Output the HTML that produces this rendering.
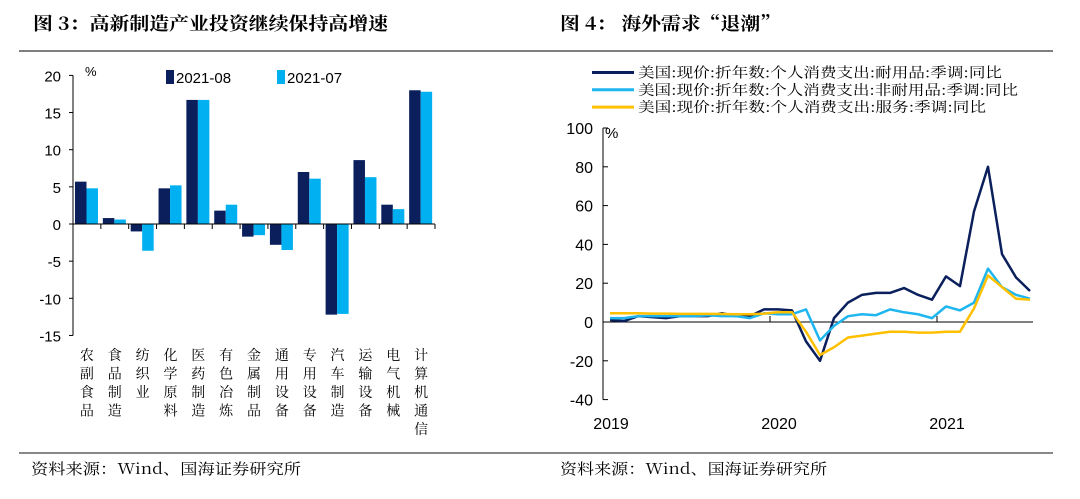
<!DOCTYPE html>
<html><head><meta charset="utf-8"><style>
body{margin:0;background:#fff;width:1080px;height:494px;overflow:hidden;font-family:"Liberation Sans","Noto Serif CJK SC",sans-serif}
svg text{font-family:"Liberation Sans","Noto Serif CJK SC",sans-serif}
.cjk{font-family:"Noto Serif CJK SC","Liberation Serif",serif}
</style></head><body>
<svg width="1080" height="494">
<text x="33" y="30" class="cjk" font-size="18" font-weight="bold" textLength="355" lengthAdjust="spacingAndGlyphs">图 3：高新制造产业投资继续保持高增速</text>
<text x="560" y="30" class="cjk" font-size="18" font-weight="bold" textLength="220" lengthAdjust="spacingAndGlyphs">图 4：  海外需求“退潮”</text>
<line x1="19" y1="51" x2="1053" y2="51" stroke="#555" stroke-width="1.5"/>
<line x1="19" y1="453" x2="1053" y2="453" stroke="#888" stroke-width="2"/>
<text x="31" y="474" class="cjk" font-size="15" textLength="270" lengthAdjust="spacingAndGlyphs">资料来源：Wind、国海证券研究所</text>
<text x="560" y="474" class="cjk" font-size="15" textLength="267" lengthAdjust="spacingAndGlyphs">资料来源：Wind、国海证券研究所</text>
<g id="left"></g>
<g id="right"></g>
</svg>
<script>
const cats=["农副食品","食品制造","纺织业","化学原料","医药制造","有色冶炼","金属制品","通用设备","专用设备","汽车制造","运输设备","电气机械","计算机通信"];
const aug=[5.7,0.8,-1.0,4.8,16.7,1.8,-1.7,-2.8,7.0,-12.2,8.6,2.6,18.0];
const jul=[4.8,0.6,-3.6,5.2,16.7,2.6,-1.5,-3.5,6.1,-12.1,6.3,2.0,17.8];
const leftTicks=[20,15,10,5,0,-5,-10,-15];
const durable=[1,0.5,3,2.5,2,3,3,3,4.5,3,3,6.5,6.5,6,-10,-20,2,10,14,15,15,17.5,14,11.5,23.5,18.5,57,80,35,23,16];
const nondurable=[2,2,3,3,3,3,3,3.5,3,3,2,4.5,4,4,6.5,-9.5,-2,3,4,3.5,6.5,5,4,2,8,6,10,27.5,18,14,12];
const services=[4.5,4.5,4.5,4.3,4.3,4.2,4.2,4.2,4.1,4,4,4.3,5,5,-5,-17,-13,-8,-7,-6,-5,-5,-5.5,-5.5,-5,-5,7,24,18,12,11.5];
const rightTicks=[100,80,60,40,20,0,-20,-40];
const yearLabels=["2019","2020","2021"];
const NS="http://www.w3.org/2000/svg";
function mk(p,t,a){const e=document.createElementNS(NS,t);for(const k in a)e.setAttribute(k,a[k]);p.appendChild(e);return e;}
// left
const L=document.getElementById('left');
const ly=v=>224-v*7.43, x0=73, cw=(435-73)/13;
leftTicks.forEach(t=>{const tk=mk(L,'line',{x1:69,x2:73,y1:ly(t),y2:ly(t),stroke:'#000'});

const tx=mk(L,'text',{x:61,y:ly(t)+6,'font-size':15,'text-anchor':'end'});tx.textContent=t;
});
const ax=mk(L,'line',{x1:73,x2:73,y1:ly(20),y2:ly(-15),stroke:'#000'});
const pc=mk(L,'text',{x:85,y:76,'font-size':13});pc.textContent='%';
cats.forEach((c,i)=>{const cx=x0+i*cw;
[[aug[i],'#0a1f5c',cx+2],[jul[i],'#00b0f0',cx+2+11.5]].forEach(([v,col,bx])=>{
const r=mk(L,'rect',{x:bx,width:11.5,y:Math.min(ly(v),ly(0)),height:Math.abs(ly(v)-ly(0)),fill:col});
});
const tk=mk(L,'line',{x1:cx+cw,x2:cx+cw,y1:224,y2:229,stroke:'#000'});
[...c].forEach((ch,k)=>{const t=mk(L,'text',{x:cx+cw/2,y:360+k*18.5,'font-size':14,'text-anchor':'middle','class':'cjk'});t.textContent=ch;
});});
const za=mk(L,'line',{x1:73,x2:435,y1:224,y2:224,stroke:'#000'});
[['2021-08','#0a1f5c',166],['2021-07','#00b0f0',277]].forEach(([n,c,x])=>{
const r=mk(L,'rect',{x:x,y:70,width:8,height:14,fill:c});
const t=mk(L,'text',{x:x+10,y:83,'font-size':15});t.textContent=n;});
// right
const R=document.getElementById('right');
const ry=v=>322-v*1.94, rx=i=>610+i*14;
rightTicks.forEach(t=>{const tk=mk(R,'line',{x1:603,x2:608,y1:ry(t),y2:ry(t),stroke:'#000'});

const tx=mk(R,'text',{x:593,y:ry(t)+6,'font-size':16,'text-anchor':'end'});tx.textContent=t;
});
const ay=mk(R,'line',{x1:603,x2:603,y1:ry(100),y2:ry(-40),stroke:'#000'});
const pr=mk(R,'text',{x:605,y:138,'font-size':15});pr.textContent='%';
const xa=mk(R,'line',{x1:603,x2:1033,y1:ry(0),y2:ry(0),stroke:'#000'});
yearLabels.forEach((y,k)=>{const tx=603+k*167;
if(k>0){const tk=mk(R,'line',{x1:tx,x2:tx,y1:ry(0),y2:ry(0)-6,stroke:'#000'});}
const t=mk(R,'text',{x:rx(k*12)+1,y:429,'font-size':16,'text-anchor':'middle'});t.textContent=y;});
[[durable,'#0a1f5c','durable-goods-line'],[nondurable,'#1fb6f0','nondurable-goods-line'],[services,'#ffc000','services-line']].forEach(([d,c,n])=>{
const p=mk(R,'polyline',{points:d.map((v,i)=>rx(i)+','+ry(v)).join(' '),fill:'none',stroke:c,'stroke-width':2.5,'stroke-linejoin':'round'});
});
[['美国:现价:折年数:个人消费支出:耐用品:季调:同比','#0a1f5c',364],['美国:现价:折年数:个人消费支出:非耐用品:季调:同比','#1fb6f0',380],['美国:现价:折年数:个人消费支出:服务:季调:同比','#ffc000',348]].forEach(([n,c,w],k)=>{
const y=72.5+k*17.3;
const l=mk(R,'line',{x1:592,x2:634,y1:y,y2:y,stroke:c,'stroke-width':3});
const t=mk(R,'text',{x:638,y:y+5,'font-size':14,'class':'cjk',textLength:w,lengthAdjust:'spacingAndGlyphs'});t.textContent=n;});
</script>
</body></html>
